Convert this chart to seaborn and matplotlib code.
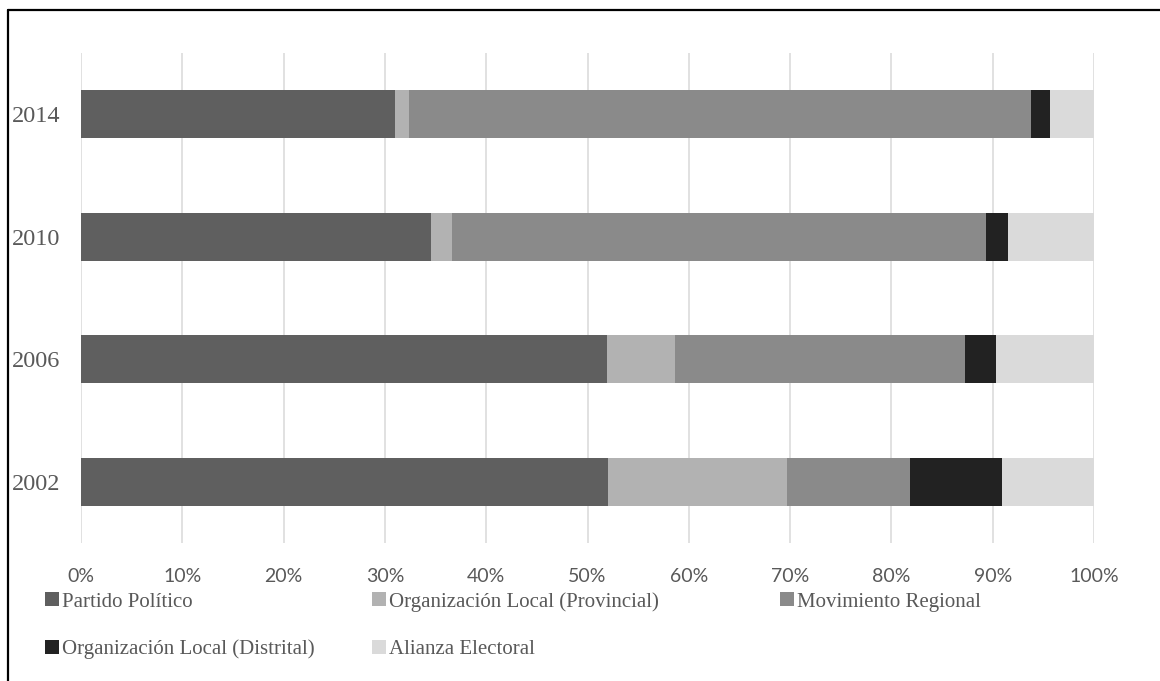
import matplotlib
matplotlib.use("Agg")
import matplotlib.pyplot as plt
import seaborn as sns
import pandas as pd
import numpy as np
from matplotlib.lines import Line2D
from matplotlib.ticker import FuncFormatter

# Share of candidate lists by type of political organization (%)
years = ["2014", "2010", "2006", "2002"]
categories = [
    "Partido Político",
    "Organización Local (Provincial)",
    "Movimiento Regional",
    "Organización Local (Distrital)",
    "Alianza Electoral",
]
partido_politico = [31.0, 34.6, 51.9, 52.0]
org_local_provincial = [1.4, 2.0, 6.7, 17.7]
movimiento_regional = [61.4, 52.7, 28.7, 12.1]
org_local_distrital = [1.9, 2.2, 3.0, 9.1]
alianza_electoral = [4.3, 8.5, 9.7, 9.1]

series = [partido_politico, org_local_provincial, movimiento_regional,
          org_local_distrital, alianza_electoral]
colors = ["#5f5f5f", "#b2b2b2", "#8a8a8a", "#222222", "#dadada"]

df = pd.DataFrame({c: v for c, v in zip(categories, series)}, index=years)
df.index.name = "Año"
cum = df.cumsum(axis=1).reset_index()

sns.set_theme(style="white")
text_color = "#595959"

fig = plt.figure(figsize=(11.6, 6.81), dpi=100)
ax = fig.add_axes([81 / 1160, 1 - 543 / 681, (1094 - 81) / 1160, (543 - 53) / 681])

# Stacked bars: draw cumulative totals from the last segment to the first
for cat, col in reversed(list(zip(categories, colors))):
    sns.barplot(data=cum, y="Año", x=cat, order=years, orient="h",
                color=col, saturation=1, width=0.39, linewidth=0,
                ax=ax, zorder=2)

ax.set_xlim(0, 100)
ax.set_ylim(3.5, -0.5)
ax.set_xticks(np.arange(0, 101, 10))
ax.xaxis.set_major_formatter(FuncFormatter(lambda v, p: f"{v:.0f}%"))
ax.set_xlabel("")
ax.set_ylabel("")
ax.grid(axis="x", color="#d9d9d9", linewidth=1.1, zorder=0)
ax.grid(axis="y", visible=False)
ax.set_axisbelow(True)
for s in ax.spines.values():
    s.set_visible(False)
ax.tick_params(axis="x", length=0, pad=18, labelsize=14, labelcolor=text_color)
ax.tick_params(axis="y", length=0, pad=15, labelsize=17.5, labelcolor=text_color)
for lab in ax.get_xticklabels():
    lab.set_fontfamily("Lato")
for lab in ax.get_yticklabels():
    lab.set_fontfamily("Liberation Serif")

# Legend laid out in rows, one legend per column
handles = {c: Line2D([], [], marker="s", linestyle="none", markersize=9.5,
                     markerfacecolor=col, markeredgewidth=0)
           for c, col in zip(categories, colors)}
columns = [
    ([categories[0], categories[3]], 45),
    ([categories[1], categories[4]], 372),
    ([categories[2]], 780),
]
for labels, x0 in columns:
    leg = fig.legend([handles[l] for l in labels], labels,
                     loc="upper left", bbox_to_anchor=(x0 / 1160, 1 - 592 / 681),
                     frameon=False, ncol=1, handlelength=0.7, handletextpad=0.1,
                     labelspacing=1.33, borderpad=0, borderaxespad=0,
                     prop={"family": "Liberation Serif", "size": 15})
    for t in leg.get_texts():
        t.set_color(text_color)

# Outer frame (top and left edges)
fig.add_artist(Line2D([8 / 1160, 1], [1 - 10 / 681, 1 - 10 / 681],
                      transform=fig.transFigure, color="black", linewidth=1.6))
fig.add_artist(Line2D([8 / 1160, 8 / 1160], [0, 1 - 10 / 681],
                      transform=fig.transFigure, color="black", linewidth=1.6))

fig.savefig("out.png", dpi=100)
